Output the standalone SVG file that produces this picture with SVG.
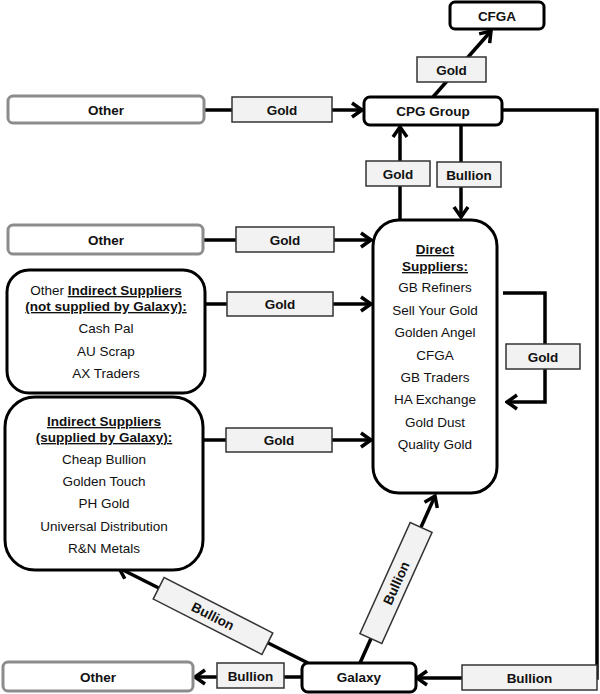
<svg xmlns="http://www.w3.org/2000/svg" width="600" height="694" viewBox="0 0 600 694">
<defs>
<style>
.node{fill:#fff;stroke:#000;stroke-width:3}
.gray{fill:#fff;stroke:#8c8c8c;stroke-width:3}
.lbl{fill:#f2f2f2;stroke:#333;stroke-width:1.5}
.con{fill:none;stroke:#000;stroke-width:3.5}
text{font-family:"Liberation Sans",Arial,sans-serif;font-size:13.5px;fill:#111;text-anchor:middle}
.b{font-weight:bold}
.u{text-decoration:underline}
</style>
<marker id="arr" viewBox="0 0 14 18" refX="12" refY="9" markerWidth="14" markerHeight="18" markerUnits="userSpaceOnUse" orient="auto">
<path d="M2,2 L12,9 L2,16" fill="none" stroke="#000" stroke-width="3.5"/>
</marker>
</defs>
<rect width="600" height="694" fill="#fff"/>

<g id="connectors">
<path class="con" d="M204,110 L362,110" marker-end="url(#arr)"/>
<path class="con" d="M433,97 L491,31" marker-end="url(#arr)"/>
<path class="con" d="M400,219 L400,127" marker-end="url(#arr)"/>
<path class="con" d="M461,125 L461,217" marker-end="url(#arr)"/>
<path class="con" d="M203,240 L371,240" marker-end="url(#arr)"/>
<path class="con" d="M205,304 L371,304" marker-end="url(#arr)"/>
<path class="con" d="M503,293 L545,293 L545,402 L507,402" marker-end="url(#arr)"/>
<path class="con" d="M203,440 L371,440" marker-end="url(#arr)"/>
<path class="con" d="M502,110 L597,110 L597,678 L417,678" marker-end="url(#arr)"/>
<path class="con" d="M302,677 L195,677" marker-end="url(#arr)"/>
<path class="con" d="M308,663 L119,568" marker-end="url(#arr)"/>
<path class="con" d="M360,663 L435,496" marker-end="url(#arr)"/>

<rect class="lbl" x="417" y="57" width="69" height="25"/>
<text class="b" x="451.5" y="74.5">Gold</text>
<rect class="lbl" x="232" y="97" width="100" height="25"/>
<text class="b" x="282" y="114.5">Gold</text>
<rect class="lbl" x="366" y="161" width="64" height="25"/>
<text class="b" x="398" y="178.5">Gold</text>
<rect class="lbl" x="437" y="162" width="64" height="25"/>
<text class="b" x="469" y="179.5">Bullion</text>
<rect class="lbl" x="236" y="227" width="98" height="25"/>
<text class="b" x="285" y="244.5">Gold</text>
<rect class="lbl" x="227" y="292" width="106" height="24"/>
<text class="b" x="280" y="308.5">Gold</text>
<rect class="lbl" x="506" y="344" width="74" height="25"/>
<text class="b" x="543" y="361.5">Gold</text>
<rect class="lbl" x="226" y="428" width="106" height="24"/>
<text class="b" x="279" y="444.5">Gold</text>
<rect class="lbl" x="217" y="663" width="67" height="25"/>
<text class="b" x="250.5" y="680.5">Bullion</text>
<rect class="lbl" x="462" y="665" width="135" height="25"/>
<text class="b" x="529.5" y="682.5">Bullion</text>
<g transform="translate(213,616) rotate(27)">
<rect class="lbl" x="-61" y="-12" width="122" height="24"/>
<text class="b" x="0" y="5">Bullion</text>
</g>
<g transform="translate(396,583) rotate(-65.7)">
<rect class="lbl" x="-61" y="-12" width="122" height="24"/>
<text class="b" x="0" y="5">Bullion</text>
</g>
</g>

<g id="cfga">
<rect class="node" x="450" y="2" width="94" height="27" rx="5"/>
<text class="b" x="497" y="20.5">CFGA</text>
</g>
<g id="cpg">
<rect class="node" x="364" y="97" width="138" height="28" rx="6"/>
<text class="b" x="433" y="115.5">CPG Group</text>
</g>
<g id="other-top">
<rect class="gray" x="8" y="96" width="196" height="27" rx="5"/>
<text class="b" x="106" y="114.5">Other</text>
</g>
<g id="other-mid">
<rect class="gray" x="8" y="225" width="195" height="29" rx="5"/>
<text class="b" x="106" y="244.5">Other</text>
</g>
<g id="other-indirect">
<rect class="node" x="7" y="270" width="198" height="123" rx="22"/>
<text x="106" y="295">Other <tspan class="b u">Indirect Suppliers</tspan></text>
<text class="b u" x="106" y="311">(not supplied by Galaxy):</text>
<text x="106" y="333">Cash Pal</text>
<text x="106" y="356">AU Scrap</text>
<text x="106" y="378">AX Traders</text>
</g>
<g id="indirect-galaxy">
<rect class="node" x="5" y="397" width="198" height="173" rx="30"/>
<text class="b u" x="104" y="426">Indirect Suppliers</text>
<text class="b u" x="104" y="442">(supplied by Galaxy):</text>
<text x="104" y="464">Cheap Bullion</text>
<text x="104" y="486">Golden Touch</text>
<text x="104" y="508">PH Gold</text>
<text x="104" y="531">Universal Distribution</text>
<text x="104" y="553">R&amp;N Metals</text>
</g>
<g id="direct">
<rect class="node" x="373" y="220" width="124" height="273" rx="26"/>
<text class="b u" x="435" y="254">Direct</text>
<text class="b u" x="435" y="271">Suppliers:</text>
<text x="435" y="292">GB Refiners</text>
<text x="435" y="315">Sell Your Gold</text>
<text x="435" y="337">Golden Angel</text>
<text x="435" y="360">CFGA</text>
<text x="435" y="382">GB Traders</text>
<text x="435" y="404">HA Exchange</text>
<text x="435" y="427">Gold Dust</text>
<text x="435" y="449">Quality Gold</text>
</g>
<g id="galaxy">
<rect class="node" x="302" y="663" width="114" height="29" rx="6"/>
<text class="b" x="359" y="682">Galaxy</text>
</g>
<g id="other-bottom">
<rect class="gray" x="3" y="662" width="190" height="29" rx="5"/>
<text class="b" x="98" y="681.5">Other</text>
</g>
</svg>
